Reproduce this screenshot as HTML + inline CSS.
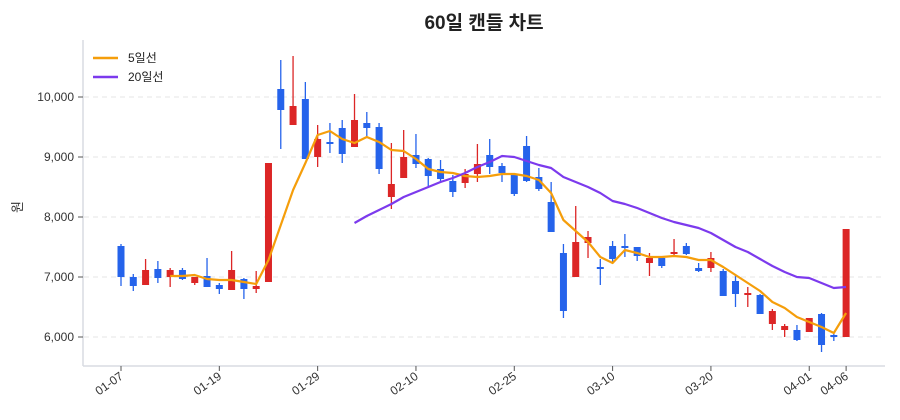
<!DOCTYPE html>
<html><head><meta charset="utf-8"><style>
html,body{margin:0;padding:0;background:#fff;}
svg{display:block;font-family:"Liberation Sans","Noto Sans CJK KR",sans-serif;}
</style></head><body>
<svg id="c" width="900" height="420" viewBox="0 0 900 420" xmlns="http://www.w3.org/2000/svg">
<rect width="900" height="420" fill="#fff"/>
<text x="484" y="29" text-anchor="middle" font-size="19" font-weight="bold" fill="#222">60일 캔들 차트</text>
<g stroke="#e6e6e6" stroke-dasharray="5,4" stroke-width="1">
<line x1="84" x2="885" y1="97" y2="97"/><line x1="84" x2="885" y1="157" y2="157"/>
<line x1="84" x2="885" y1="217" y2="217"/><line x1="84" x2="885" y1="277" y2="277"/>
<line x1="84" x2="885" y1="337" y2="337"/>
</g>
<g stroke="#d8dce2" stroke-width="1.5"><line x1="83" y1="40" x2="83" y2="366"/><line x1="83" y1="366" x2="885" y2="366"/></g>
<g font-size="12" fill="#333" text-anchor="end">
<text x="74" y="101">10,000</text><text x="74" y="161">9,000</text><text x="74" y="221">8,000</text><text x="74" y="281">7,000</text><text x="74" y="341">6,000</text>
</g>
<g stroke="#555" stroke-width="1"><line x1="78" x2="83" y1="97" y2="97"/><line x1="78" x2="83" y1="157" y2="157"/><line x1="78" x2="83" y1="217" y2="217"/><line x1="78" x2="83" y1="277" y2="277"/><line x1="78" x2="83" y1="337" y2="337"/></g>
<text transform="translate(22,207) rotate(-90)" font-size="13" fill="#333" text-anchor="middle">원</text>
<g id="cand"></g>
<g id="xt" font-size="12" fill="#333"></g>
<g>
<line x1="93" y1="58" x2="118" y2="58" stroke="#f59e0b" stroke-width="2.5"/>
<text x="128" y="62" font-size="12" fill="#222">5일선</text>
<line x1="93" y1="77" x2="118" y2="77" stroke="#7c3aed" stroke-width="2.5"/>
<text x="128" y="81" font-size="12" fill="#222">20일선</text>
</g>
</svg>
<script>
var C=[
['b',244,286,246,277],['b',274,291,277,286],['r',259,285,270,285],['b',261,283,269,278],['r',268,287,270,277],
['b',268,280,270,279],['r',277,285,277,283],['b',258,287,276,287],['b',283,294,285,289],['r',251,290,270,290],
['b',278,299,279,289],['r',271,293,286,289],['r',163,282,163,282],['b',60,149,89,110],['r',56,125,106,125],
['b',82,159,99,159],['r',125,167,139,157],['b',123,153,142,144],['b',120,163,128,154],['r',94,147,120,147],
['b',112,137,123,128],['b',123,174,127,169],['r',143,209,184,197],['r',130,177,157,178],['b',134,168,155,164],
['b',158,186,159,176],['b',160,183,169,179],['b',175,197,181,192],['r',169,188,174,183],['r',144,182,164,174],
['b',139,174,155,167],['b',163,182,166,173],['b',173,196,175,194],['b',136,182,146,181],['b',168,191,177,189],
['b',182,232,202,232],['b',244,318,253,311],['r',206,277,242,277],['r',231,258,237,243],['b',259,285,267,269],
['b',241,263,246,259],['b',234,257,246,248],['b',247,261,247,256],['r',253,276,258,263],['b',258,268,258,266],
['r',239,256,252,254],['b',243,255,246,254],['b',263,272,268,271],['r',252,272,258,268],['b',269,296,271,296],
['b',275,307,281,294],['r',287,307,293,294],['b',294,314,295,314],['r',309,330,311,324],['r',324,337,326,330],
['b',325,341,330,340],['r',318,332,318,332],['b',313,352,314,345],['b',334,341,335,337],['r',229,337,229,337]];
var ma5={4:276,5:276,6:275,7:279,8:280,9:280,10:282,11:284,12:260,13:225,14:190,15:163,16:135,17:131,18:139,19:143,20:137,21:142,22:150,23:151,24:159,25:169,26:172,27:173,28:176,29:177,30:176,31:174,32:174,33:176,34:180,35:193,36:220,37:231,38:242,39:257,40:263,41:250,42:253,43:257,44:257,45:256,46:257,47:260,48:260,49:267,50:275,51:283,52:291,53:302,54:308,55:317,56:322,57:327,58:333,59:313};
var ma20=[223,216,210,204,197,192,187,182,178,173,167,162,156,157,161,165,168,177,182,187,193,201,204,208,213,218,222,225,228,233,240,247,252,259,266,272,277,278,283,288,287];
var X=function(i){return 121+i*12.29;};
var s='';
C.forEach(function(c,i){var col=c[0]=='r'?'#dc2626':'#2563eb';var x=X(i);
s+='<line x1="'+x+'" x2="'+x+'" y1="'+c[1]+'" y2="'+c[2]+'" stroke="'+col+'" stroke-width="1.3"/>';
var h=Math.max(2,c[4]-c[3]);s+='<rect x="'+(x-3.5)+'" y="'+c[3]+'" width="7" height="'+h+'" fill="'+col+'"/>';});
var p=[];for(var k in ma5)p.push(X(+k).toFixed(1)+','+ma5[k]);
s+='<polyline fill="none" stroke="#f59e0b" stroke-width="2.2" stroke-linejoin="round" points="'+p.join(' ')+'"/>';
p=ma20.map(function(v,j){return X(19+j).toFixed(1)+','+v;});
s+='<polyline fill="none" stroke="#7c3aed" stroke-width="2.2" stroke-linejoin="round" points="'+p.join(' ')+'"/>';
document.getElementById('cand').innerHTML=s;
var T=[['01-07',0],['01-19',8],['01-29',16],['02-10',24],['02-25',32],['03-10',40],['03-20',48],['04-01',56],['04-06',59]];
var t='';T.forEach(function(a){var x=X(a[1]);t+='<line x1="'+x+'" x2="'+x+'" y1="366" y2="371" stroke="#555"/>';
t+='<text transform="translate('+(x+3)+',378) rotate(-35)" text-anchor="end">'+a[0]+'</text>';});
document.getElementById('xt').innerHTML=t;
</script>
</body></html>
